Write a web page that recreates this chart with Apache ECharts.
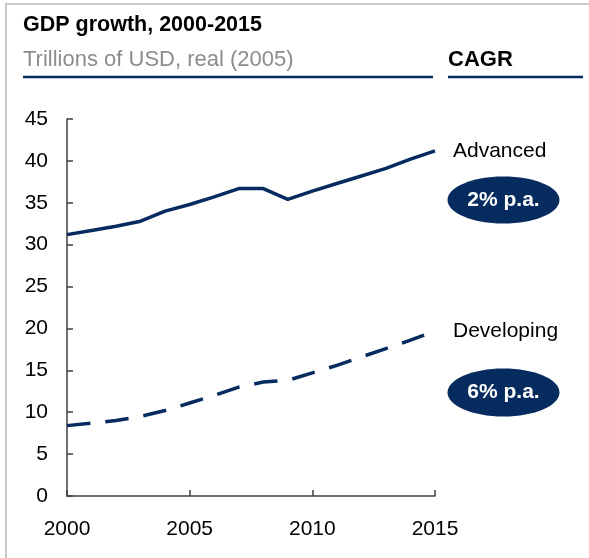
<!DOCTYPE html>
<html>
<head>
<meta charset="utf-8">
<title>GDP growth</title>
<script src="https://cdn.jsdelivr.net/npm/echarts@6/dist/echarts.min.js"></script>
<style>
  html, body { margin: 0; padding: 0; background: #fff; }
  #myChart { width: 589px; height: 558px; }
</style>
</head>
<body>
<div id="myChart"></div>
<script>
// 数据
const years = ['2000', '2001', '2002', '2003', '2004', '2005', '2006', '2007',
  '2008', '2009', '2010', '2011', '2012', '2013', '2014', '2015'];
const advanced = [31.2, 31.7, 32.2, 32.8, 34.0, 34.8, 35.7, 36.7, 36.7, 35.4, 36.4, 37.3, 38.2, 39.1, 40.2, 41.2];
const developing = [8.4, 8.7, 9.0, 9.5, 10.2, 11.1, 12.0, 13.0, 13.6, 13.8, 14.7, 15.6, 16.6, 17.6, 18.6, 19.7];
const cagr = ['2% p.a.', '6% p.a.'];

const navy = '#062b5f';
const font = 'Liberation Sans, Arial, sans-serif';

const myChart = echarts.init(document.getElementById('myChart'));

const option = {
  animation: false,
  textStyle: { fontFamily: font },
  grid: { left: 67, right: 154, top: 119, bottom: 62 },
  xAxis: {
    type: 'category',
    boundaryGap: false,
    data: years,
    axisLine: { lineStyle: { color: '#404040', width: 1.5 } },
    axisTick: { inside: true, length: 6, interval: 4, lineStyle: { color: '#404040', width: 1.5 } },
    axisLabel: { interval: 4, color: '#000', fontSize: 21, margin: 23 }
  },
  yAxis: {
    type: 'value',
    min: 0,
    max: 45,
    interval: 5,
    axisLine: { show: true, lineStyle: { color: '#404040', width: 1.5 } },
    axisTick: { show: true, inside: true, length: 6, lineStyle: { color: '#404040', width: 1.5 } },
    axisLabel: { color: '#000', fontSize: 21, margin: 19 },
    splitLine: { show: false }
  },
  series: [
    {
      name: 'Advanced',
      type: 'line',
      data: advanced,
      symbol: 'none',
      lineStyle: { color: navy, width: 3.5 },
      endLabel: { show: true, formatter: '{a}', color: '#000', fontSize: 21, distance: 18 }
    },
    {
      name: 'Developing',
      type: 'line',
      data: developing,
      symbol: 'none',
      lineStyle: { color: navy, width: 3.5, type: [23.5, 15], cap: 'butt' },
      endLabel: { show: true, formatter: '{a}', color: '#000', fontSize: 21, distance: 18 }
    }
  ],
  // 标题、下划线、CAGR 椭圆
  graphic: [
    { type: 'rect', shape: { x: 6, y: 4, width: 800, height: 800 }, style: { fill: 'none', stroke: '#c8c8c8', lineWidth: 2 } },
    { type: 'text', x: 23, y: 36, style: { text: 'GDP growth, 2000-2015', font: 'bold 21.5px ' + font, fill: '#000', verticalAlign: 'bottom' } },
    { type: 'text', x: 23, y: 71, style: { text: 'Trillions of USD, real (2005)', font: '22px ' + font, fill: '#8c8c8c', verticalAlign: 'bottom' } },
    { type: 'text', x: 448, y: 71, style: { text: 'CAGR', font: 'bold 22px ' + font, fill: '#000', verticalAlign: 'bottom' } },
    { type: 'line', shape: { x1: 23, y1: 77, x2: 433, y2: 77 }, style: { stroke: navy, lineWidth: 2.5 } },
    { type: 'line', shape: { x1: 448, y1: 77, x2: 583, y2: 77 }, style: { stroke: navy, lineWidth: 2.5 } },
    { type: 'ellipse', shape: { cx: 503.5, cy: 200, rx: 56, ry: 23.5 }, style: { fill: navy } },
    { type: 'text', x: 503.5, y: 200, style: { text: cagr[0], font: 'bold 21px ' + font, fill: '#fff', align: 'center', verticalAlign: 'middle' } },
    { type: 'ellipse', shape: { cx: 503.5, cy: 392.5, rx: 56, ry: 24 }, style: { fill: navy } },
    { type: 'text', x: 503.5, y: 392.5, style: { text: cagr[1], font: 'bold 21px ' + font, fill: '#fff', align: 'center', verticalAlign: 'middle' } }
  ]
};

myChart.setOption(option);
window.addEventListener('resize', myChart.resize);
</script>
</body>
</html>
